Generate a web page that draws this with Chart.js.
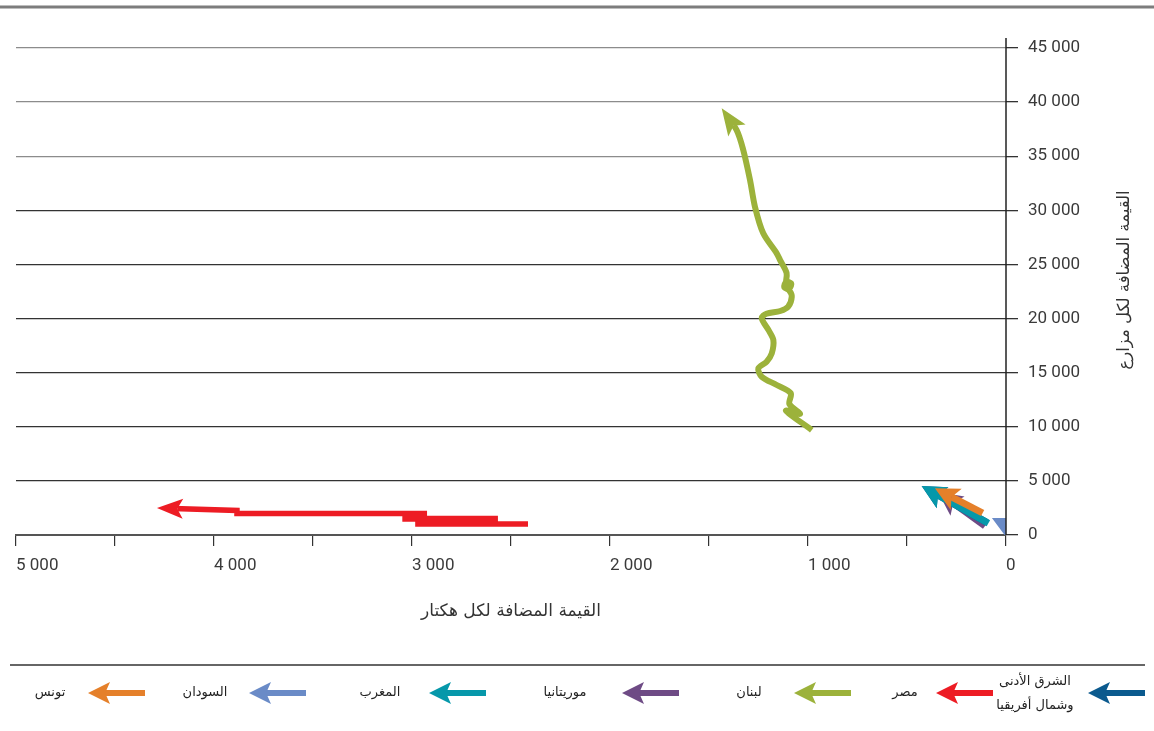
<!DOCTYPE html>
<html lang="ar">
<head>
<meta charset="utf-8">
<title>القيمة المضافة لكل هكتار ولكل مزارع</title>
<script src="https://cdn.jsdelivr.net/npm/chart.js@4.4.1/dist/chart.umd.min.js"></script>
<style>
  html, body { margin: 0; padding: 0; background: #fff; }
  #wrap { position: relative; width: 1154px; height: 731px; }
</style>
</head>
<body>
<div id="wrap"><canvas id="chart"></canvas></div>
<script>
// --- data (x = value added per hectare, y = value added per farmer) ---
const seriesNames = ['الشرق الأدنى\nوشمال أفريقيا', 'مصر', 'لبنان', 'موريتانيا', 'المغرب', 'السودان', 'تونس'];

const nenaX = [96, 426];
const nenaY = [1149, 4530];

const egyptX = [2414, 2970, 2970, 2566, 3035, 3035, 2924, 3884, 3884, 4288];
const egyptY = [1017, 1017, 1525, 1525, 1480, 1987, 1987, 1987, 2265, 2495];

const lebanonX = [981, 1111, 1040, 1094, 1087, 1158, 1234, 1251, 1209, 1183, 1175, 1200, 1234, 1210, 1140, 1100,
                  1082, 1095, 1120, 1110, 1085, 1092, 1112, 1108, 1141, 1158, 1226, 1268, 1293, 1327, 1361, 1436];
const lebanonY = [9700, 11490, 11180, 12100, 13100, 13860, 14630, 15400, 16020, 16790, 18020, 18950, 20030, 20450, 20700, 21100,
                  22020, 22600, 22900, 23400, 23250, 22850, 23050, 24200, 25400, 26030, 27880, 30340, 32810, 35580, 37430, 39430];

const mauritaniaX = [106, 343];
const mauritaniaY = [830, 3970];

const moroccoX = [89, 426];
const moroccoY = [1080, 4530];

const sudanX = [-110, 71];
const sudanY = [-100, 1570];

const tunisiaX = [118, 359];
const tunisiaY = [2033, 4316];

const xTicksMax = 5000;
const yTicksMax = 45000;

const xTitle = 'القيمة المضافة لكل هكتار';
const yTitle = 'القيمة المضافة لكل مزارع';

// --- helpers ---
function zip(xs, ys) {
    return xs.map(function (x, i) { return { x: x, y: ys[i] }; });
}

function fmt(v) {
    return String(v).replace(/\B(?=(\d{3})+(?!\d))/g, ' ');
}

const colors = ['#0b5a8e', '#ed1c24', '#9cb23b', '#6e4b85', '#0698aa', '#6a8bc7', '#e5802a'];

const NOTCH = 0.78;

function headGeom(meta, ds) {
    const pts = meta.data;
    const n = pts.length;
    if (n < 2 || !ds.head) return null;
    const t = pts[n - 1], p = pts[n - 2];
    let dx = t.x - p.x, dy = t.y - p.y;
    const len = Math.hypot(dx, dy) || 1;
    dx /= len; dy /= len;
    const L = ds.head[0], W = ds.head[1];
    const nx = -dy, ny = dx;
    const bx = t.x - dx * L, by = t.y - dy * L;
    return {
        t: [t.x, t.y],
        w1: [bx + nx * W, by + ny * W],
        w2: [bx - nx * W, by - ny * W],
        nt: [t.x - dx * L * NOTCH, t.y - dy * L * NOTCH],
        dx: dx, dy: dy, nx: nx, ny: ny, W: W
    };
}

function drawHead(ctx, g, color) {
    ctx.fillStyle = color;
    ctx.beginPath();
    ctx.moveTo(g.t[0], g.t[1]);
    ctx.lineTo(g.w1[0], g.w1[1]);
    ctx.lineTo(g.nt[0], g.nt[1]);
    ctx.lineTo(g.w2[0], g.w2[1]);
    ctx.closePath();
    ctx.fill();
}

// arrow heads, drawn per dataset so the stacking order is kept
const arrowPlugin = {
    id: 'arrowHeads',
    beforeDatasetDraw(chart, args) {
        const ds = chart.data.datasets[args.index];
        const g = headGeom(args.meta, ds);
        const ctx = chart.ctx;
        ctx.save();
        if (!g) return;
        // keep the shaft out of the head area
        const W = g.W + 4;
        const a = [g.nt[0] + g.nx * W, g.nt[1] + g.ny * W];
        const b = [g.nt[0] - g.nx * W, g.nt[1] - g.ny * W];
        const c = [g.t[0] + g.dx * 6 - g.nx * W, g.t[1] + g.dy * 6 - g.ny * W];
        const d = [g.t[0] + g.dx * 6 + g.nx * W, g.t[1] + g.dy * 6 + g.ny * W];
        ctx.beginPath();
        ctx.rect(0, 0, chart.width, chart.height);
        ctx.moveTo(a[0], a[1]);
        ctx.lineTo(b[0], b[1]);
        ctx.lineTo(c[0], c[1]);
        ctx.lineTo(d[0], d[1]);
        ctx.closePath();
        ctx.clip('evenodd');
    },
    afterDatasetDraw(chart, args) {
        const ctx = chart.ctx;
        ctx.restore();
        const ds = chart.data.datasets[args.index];
        const g = headGeom(args.meta, ds);
        if (!g) return;
        const area = chart.chartArea;
        ctx.save();
        ctx.beginPath();
        ctx.rect(area.left, area.top, area.right - area.left, area.bottom - area.top);
        ctx.clip();
        drawHead(ctx, g, ds.borderColor);
        ctx.restore();
    }
};

// frame lines, axis titles and legend
const decoPlugin = {
    id: 'deco',
    afterDraw(chart) {
        const ctx = chart.ctx;
        const area = chart.chartArea;
        ctx.save();

        // top rule
        ctx.strokeStyle = '#7d7d7d';
        ctx.lineWidth = 3;
        ctx.beginPath();
        ctx.moveTo(0, 7);
        ctx.lineTo(chart.width, 7);
        ctx.stroke();

        // y axis line
        ctx.strokeStyle = '#222';
        ctx.lineWidth = 1.5;
        ctx.beginPath();
        ctx.moveTo(area.right, area.top - 10);
        ctx.lineTo(area.right, area.bottom);
        ctx.stroke();

        // legend separator
        ctx.strokeStyle = '#333';
        ctx.lineWidth = 1.5;
        ctx.beginPath();
        ctx.moveTo(10, 665);
        ctx.lineTo(1145, 665);
        ctx.stroke();

        // axis titles
        ctx.fillStyle = '#333';
        ctx.direction = 'rtl';
        ctx.textAlign = 'center';
        ctx.textBaseline = 'middle';
        ctx.font = '17px "DejaVu Sans", sans-serif';
        ctx.fillText(xTitle, (area.left + area.right) / 2, 612);

        ctx.save();
        ctx.font = '16.5px "DejaVu Sans", sans-serif';
        ctx.translate(1125, 280);
        ctx.rotate(-Math.PI / 2);
        ctx.fillText(yTitle, 0, 0);
        ctx.restore();

        // legend
        const arrowRight = [1145, 993, 851, 679, 486, 306, 145];
        const textCenter = [1035, 905, 749, 565, 380, 205, 50];
        const ly = 693;
        ctx.font = '13px "DejaVu Sans", sans-serif';
        for (let i = 0; i < seriesNames.length; i++) {
            const xr = arrowRight[i], xl = xr - 57;
            const L = 22, W = 11;
            ctx.fillStyle = colors[i];
            ctx.fillRect(xl + L * NOTCH - 1, ly - 3, xr - (xl + L * NOTCH - 1), 6);
            ctx.beginPath();
            ctx.moveTo(xl, ly);
            ctx.lineTo(xl + L, ly - W);
            ctx.lineTo(xl + L * NOTCH, ly);
            ctx.lineTo(xl + L, ly + W);
            ctx.closePath();
            ctx.fill();

            ctx.fillStyle = '#222';
            const lines = seriesNames[i].split('\n');
            if (lines.length === 1) {
                ctx.fillText(lines[0], textCenter[i], ly);
            } else {
                ctx.fillText(lines[0], textCenter[i], ly - 11);
                ctx.fillText(lines[1], textCenter[i], ly + 13);
            }
        }
        ctx.restore();
    }
};

function series(i, xs, ys, width, order, head, tension) {
    return {
        label: seriesNames[i].replace('\n', ' '),
        data: zip(xs, ys),
        borderColor: colors[i],
        backgroundColor: colors[i],
        borderWidth: width,
        pointRadius: 0,
        pointHoverRadius: 0,
        tension: tension,
        borderCapStyle: 'butt',
        borderJoinStyle: tension ? 'round' : 'miter',
        fill: false,
        clip: 0,
        order: order,
        head: head
    };
}

const ctx = document.getElementById('chart').getContext('2d');
new Chart(ctx, {
    type: 'line',
    data: {
        datasets: [
            series(0, nenaX, nenaY, 7, 2.5, [24, 12], 0),
            series(1, egyptX, egyptY, 5.5, 6, [26, 10], 0),
            series(2, lebanonX, lebanonY, 6, 7, [27, 10.5], 0.3),
            series(3, mauritaniaX, mauritaniaY, 7, 3, [24, 12], 0),
            series(4, moroccoX, moroccoY, 7, 2, [24, 12], 0),
            series(5, sudanX, sudanY, 7, 5, [24, 12], 0),
            series(6, tunisiaX, tunisiaY, 7, 1, [24, 12], 0)
        ]
    },
    options: {
        responsive: true,
        maintainAspectRatio: false,
        animation: false,
        events: [],
        layout: { padding: { left: 16, top: 48, right: 0, bottom: 136 } },
        plugins: {
            legend: { display: false },
            tooltip: { enabled: false }
        },
        scales: {
            x: {
                type: 'linear',
                position: 'bottom',
                reverse: true,
                min: 0,
                max: xTicksMax,
                afterFit: function (scale) { scale.height = 60; },
                grid: {
                    drawOnChartArea: false,
                    drawTicks: true,
                    tickLength: 11,
                    color: '#333',
                    lineWidth: 1.2
                },
                border: { display: true, color: '#555', width: 2 },
                ticks: {
                    stepSize: 500,
                    autoSkip: false,
                    maxRotation: 0,
                    align: 'start',
                    padding: 10,
                    color: '#3a3a3a',
                    font: { family: 'Roboto', size: 17 },
                    callback: function (v) { return v % 1000 === 0 ? fmt(v) : ''; }
                }
            },
            y: {
                type: 'linear',
                position: 'right',
                min: 0,
                max: yTicksMax,
                afterFit: function (scale) { scale.width = 148; },
                grid: {
                    drawTicks: true,
                    tickLength: 12,
                    tickColor: '#333',
                    lineWidth: 1.3,
                    color: function (c) { return c.tick && c.tick.value >= 35000 ? '#8c8c8c' : '#333'; }
                },
                border: { display: false },
                ticks: {
                    stepSize: 5000,
                    autoSkip: false,
                    padding: 10,
                    color: '#3a3a3a',
                    font: { family: 'Roboto', size: 17 },
                    callback: function (v) { return fmt(v); }
                }
            }
        }
    },
    plugins: [arrowPlugin, decoPlugin]
});
</script>
</body>
</html>
